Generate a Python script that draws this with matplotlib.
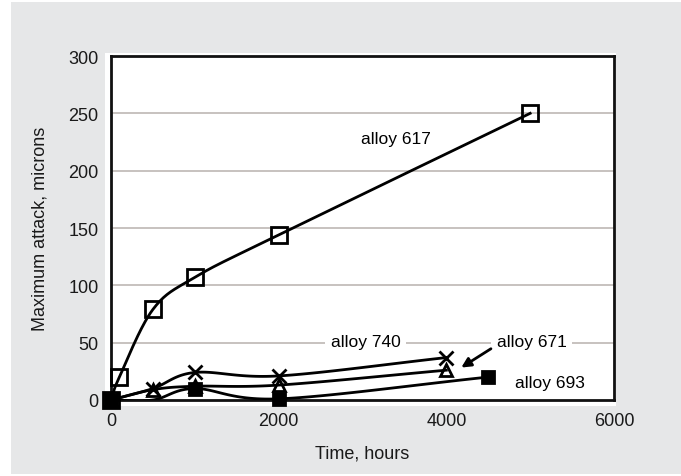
import numpy as np
import matplotlib.pyplot as plt
from matplotlib.patches import Rectangle

plt.rcParams['font.family'] = ['Liberation Sans', 'DejaVu Sans']

# data (time in hours, attack in microns)
t617 = [0, 100, 500, 1000, 2000, 5000]
y617 = [0, 20, 79, 107, 144, 250]
t740 = [0, 500, 1000, 2000, 4000]
y740 = [0, 10, 24, 21, 37]
t671 = [0, 500, 1000, 2000, 4000]
y671 = [0, 9, 12, 13, 26]
t693 = [0, 500, 1000, 2000, 4500]
y693 = [0, 0, 10, 1, 20]
shown693 = [0, 2, 3, 4]  # no marker is drawn at 500 h for alloy 693

xticks = [0, 2000, 4000, 6000]
yticks = [0, 50, 100, 150, 200, 250, 300]


def smooth(x, y, n=30):
    # catmull-rom through the points, done in axes-scaled units so the curve looks like the original
    sx, sy = 501 / 6000, 344 / 300
    p = np.column_stack([np.array(x) * sx, np.array(y) * sy])
    p = np.vstack([p[0] - (p[1] - p[0]), p, p[-1] + (p[-1] - p[-2])])
    out = []
    for i in range(1, len(p) - 2):
        p0, p1, p2, p3 = p[i - 1], p[i], p[i + 1], p[i + 2]
        for s in np.linspace(0, 1, n, endpoint=False):
            out.append(0.5 * ((2 * p1) + (-p0 + p2) * s
                              + (2 * p0 - 5 * p1 + 4 * p2 - p3) * s ** 2
                              + (-p0 + 3 * p1 - 3 * p2 + p3) * s ** 3))
    out.append(p[-2])
    out = np.array(out)
    return out[:, 0] / sx, out[:, 1] / sy


fig = plt.figure(figsize=(6.81, 4.77), dpi=100)
fig.patches.append(Rectangle((11 / 681, 2 / 477), 1, 472 / 477, transform=fig.transFigure,
                             facecolor='#e6e7e8', edgecolor='none', zorder=-10))
fig.patches.append(Rectangle((105 / 681, 1 - 407 / 477), 511 / 681, 353 / 477,
                             transform=fig.transFigure, facecolor='white', edgecolor='none', zorder=-9))

ax = fig.add_axes([111 / 681, 1 - 401 / 477, 503 / 681, 344 / 477])
ax.set_xlim(0, 6000)
ax.set_ylim(0, 300)

for yv in yticks[1:-1]:
    ax.axhline(yv, color='#bdb8b4', lw=1.2, zorder=1)

for tx, ty, mk, ms, fc, every in [(t740, y740, 'x', 10, 'none', None),
                                  (t671, y671, '^', 9, 'none', None),
                                  (t693, y693, 's', 9, 'black', shown693),
                                  (t617, y617, 's', 11.5, 'none', None)]:
    sx_, sy_ = smooth(tx, ty)
    ax.plot(sx_, sy_, color='black', lw=2, zorder=3)
    ax.plot(tx, ty, ls='none', marker=mk, ms=ms, mfc=fc, mec='black', mew=2,
            markevery=every, zorder=4, clip_on=False)

box = dict(facecolor='white', edgecolor='none', pad=4)
ax.text(3400, 228, 'alloy 617', ha='center', va='center', fontsize=12.5)
ax.text(3040, 51, 'alloy 740', ha='center', va='center', fontsize=12.5, bbox=box, zorder=2)
ax.text(5020, 51, 'alloy 671', ha='center', va='center', fontsize=12.5, bbox=box, zorder=2)
ax.text(5240, 15, 'alloy 693', ha='center', va='center', fontsize=12.5)
ax.annotate('', xy=(4150, 27), xytext=(4560, 46),
            arrowprops=dict(arrowstyle='-|>', color='black', lw=2, mutation_scale=14), zorder=5)

ax.set_xticks(xticks)
ax.set_yticks(yticks)
ax.tick_params(length=0, labelsize=13, pad=9, colors='#1a1a1a')
for s in ax.spines.values():
    s.set_linewidth(2)
    s.set_color('#111111')
ax.set_xlabel('Time, hours', fontsize=13, labelpad=11, color='#1a1a1a')
ax.set_ylabel('Maximum attack, microns', fontsize=13, labelpad=14, color='#1a1a1a')

fig.savefig('out.png', dpi=100)
